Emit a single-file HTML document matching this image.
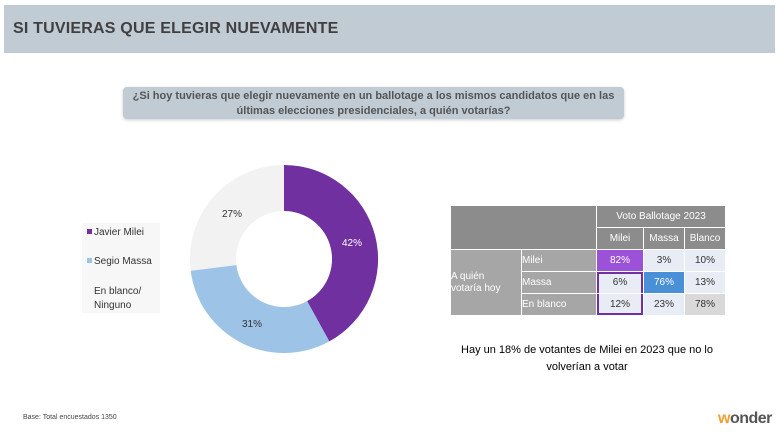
<!DOCTYPE html>
<html><head><meta charset="utf-8"><style>
body{margin:0;width:780px;height:439px;background:#fff;position:relative;overflow:hidden;font-family:"Liberation Sans",sans-serif;}
.hdr{position:absolute;left:4px;top:5px;width:771px;height:48px;background:#c0cbd4;}
.hdr span{position:absolute;left:9px;top:15px;font-weight:bold;font-size:16px;color:#404040;letter-spacing:0.2px}
.q{position:absolute;left:123px;top:87px;width:501px;height:32px;background:#c0cbd4;border-radius:4px;box-shadow:0 1px 3px rgba(0,0,0,.2);font-size:11px;font-weight:bold;color:#555;text-align:center;line-height:15px;padding-top:2px;box-sizing:border-box}
.leg{position:absolute;left:82px;top:223px;width:78px;height:90px;background:#f7f7f7;font-size:10px;color:#333}
.leg div{position:absolute;left:5px}
.sq{display:inline-block;width:5px;height:5px;margin-right:2px;vertical-align:1px}
table{position:absolute;left:450px;top:205px;border-collapse:collapse;font-size:10px;}
td{border:1px solid #fff;text-align:center;padding:0;height:21px;color:#333}
.g{background:#8c8c8c;color:#fff}
.g2{background:#a6a6a6;color:#fff;text-align:left}
.c{background:#e8ecf4}
.note{position:absolute;left:450px;top:342px;width:274px;font-size:11px;text-align:center;line-height:17px;color:#000}
.base{position:absolute;left:23px;top:414px;font-size:7px;color:#444}
.logo{position:absolute;left:718px;top:410px;font-size:16px;font-weight:bold;color:#555;letter-spacing:-0.5px}
</style></head><body>
<div class="hdr"><span>SI TUVIERAS QUE ELEGIR NUEVAMENTE</span></div>
<div class="q">¿Si hoy tuvieras que elegir nuevamente en un ballotage a los mismos candidatos que en las<br>últimas elecciones presidenciales, a quién votarías?</div>
<svg style="position:absolute;left:0;top:0" width="780" height="439">
<path d="M284,165 A94,94 0 0 1 329.3,341.4 L307.1,301.1 A48,48 0 0 0 284,211 Z" fill="#7030a0"/>
<path d="M329.3,341.4 A94,94 0 0 1 190.7,270.8 L236.4,265 A48,48 0 0 0 307.1,301.1 Z" fill="#9dc3e6"/>
<path d="M190.7,270.8 A94,94 0 0 1 284,165 L284,211 A48,48 0 0 0 236.4,265 Z" fill="#f2f2f2"/>
<g font-family="Liberation Sans" font-size="10">
<text x="352" y="246" fill="#fff" text-anchor="middle">42%</text>
<text x="252" y="327" fill="#333" text-anchor="middle">31%</text>
<text x="232" y="217" fill="#333" text-anchor="middle">27%</text>
</g></svg>
<div class="leg">
<div style="top:4px"><span class="sq" style="background:#7030a0"></span>Javier Milei</div>
<div style="top:33px"><span class="sq" style="background:#9dc3e6"></span>Segio Massa</div>
<div style="top:62px;left:12px;line-height:14px">En blanco/<br>Ninguno</div>
</div>
<table>
<tr><td class="g" colspan="2" rowspan="2" style="width:145px"></td><td class="g" colspan="3" style="height:21px">Voto Ballotage 2023</td></tr>
<tr><td class="g" style="width:46px">Milei</td><td class="g" style="width:40px">Massa</td><td class="g" style="width:40px">Blanco</td></tr>
<tr><td class="g2" rowspan="3" style="width:70px;line-height:12px">A quién<br>votaría hoy</td><td class="g2" style="width:74px">Milei</td><td style="background:#9b51d8;color:#fff">82%</td><td class="c">3%</td><td class="c">10%</td></tr>
<tr><td class="g2">Massa</td><td class="c" style="box-shadow:inset 2px 0 #7030a0,inset -2px 0 #7030a0,inset 0 2px #7030a0">6%</td><td style="background:#4a90d9;color:#fff">76%</td><td class="c">13%</td></tr>
<tr><td class="g2">En blanco</td><td class="c" style="box-shadow:inset 2px 0 #7030a0,inset -2px 0 #7030a0,inset 0 -2px #7030a0">12%</td><td class="c">23%</td><td style="background:#d9d9d9">78%</td></tr>
</table>
<div class="note">Hay un 18% de votantes de Milei en 2023 que no lo<br>volverían a votar</div>
<div class="base">Base: Total encuestados 1350</div>
<div class="logo"><span style="color:#f0a030">w</span>onder</div>
</body></html>
